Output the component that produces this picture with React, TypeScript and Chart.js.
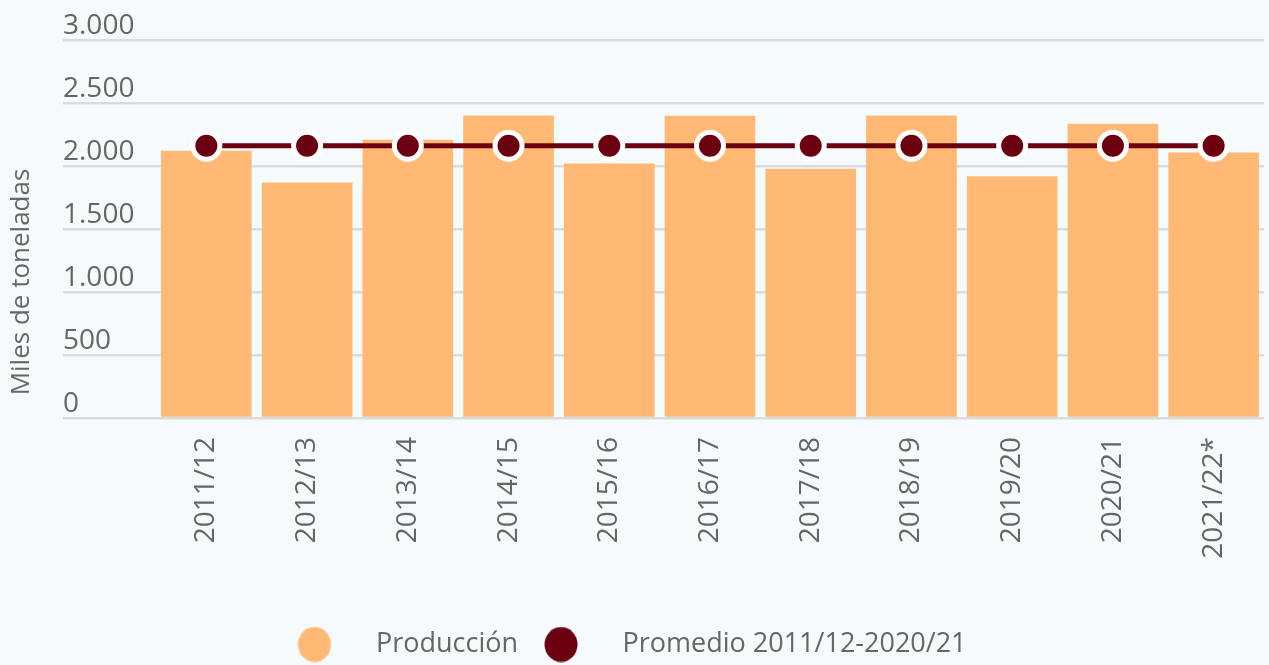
import React, { useEffect, useRef } from 'react';
import { Chart, registerables } from 'chart.js';

Chart.register(...registerables);

const categories = ['2011/12', '2012/13', '2013/14', '2014/15', '2015/16', '2016/17', '2017/18', '2018/19', '2019/20', '2020/21', '2021/22*'];
const produccion = [2121, 1870, 2208, 2400, 2019, 2399, 1979, 2400, 1918, 2335, 2108];
const promedio = [2161, 2161, 2161, 2161, 2161, 2161, 2161, 2161, 2161, 2161, 2161];
const seriesLabels = ['Producción', 'Promedio 2011/12-2020/21'];
const yAxisTitle = 'Miles de toneladas';
const yMin = 0;
const yMax = 3000;
const yStep = 500;

const BAR_COLOR = '#ffb974';
const LINE_COLOR = '#6b0011';
const GRID_COLOR = '#d8dcdf';
const TEXT_COLOR = '#666666';
const BG = '#f5fafd';
const FONT = '"Open Sans", sans-serif';

function legendImage(color: string) {
  const c = document.createElement('canvas');
  c.width = 65;
  c.height = 36;
  const ctx = c.getContext('2d')!;
  ctx.fillStyle = color;
  ctx.beginPath();
  ctx.ellipse(17, 18, 16.5, 17.5, 0, 0, Math.PI * 2);
  ctx.fill();
  return c;
}

const fmt = (v: number) => String(v).replace(/\B(?=(\d{3})+(?!\d))/g, '.');

export default function App() {
  const ref = useRef<HTMLCanvasElement>(null);
  useEffect(() => {
    document.body.style.margin = '0';
    document.body.style.background = BG;
    const imgs = [legendImage(BAR_COLOR), legendImage(LINE_COLOR)];
    const titlePlugin = {
      id: 'yTitle',
      afterDraw(chart: any) {
        const ctx = chart.ctx;
        ctx.save();
        ctx.translate(22, 282);
        ctx.rotate(-Math.PI / 2);
        ctx.font = `26px ${FONT}`;
        ctx.fillStyle = TEXT_COLOR;
        ctx.textAlign = 'center';
        ctx.textBaseline = 'middle';
        ctx.fillText(yAxisTitle, 0, 0);
        ctx.restore();
      },
    };
    const chart = new Chart(ref.current!, {
      type: 'bar',
      data: {
        labels: categories,
        datasets: [
          {
            type: 'bar',
            label: seriesLabels[0],
            data: produccion,
            backgroundColor: BAR_COLOR,
            borderWidth: 0,
            barPercentage: 0.9,
            categoryPercentage: 1.0,
            order: 1,
          } as any,
          {
            type: 'line',
            label: seriesLabels[1],
            data: promedio,
            borderColor: LINE_COLOR,
            borderWidth: 5,
            backgroundColor: LINE_COLOR,
            pointRadius: 13.5,
            pointBorderWidth: 5,
            pointBorderColor: '#ffffff',
            pointBackgroundColor: LINE_COLOR,
            fill: false,
            clip: false,
            order: 0,
          } as any,
        ],
      },
      options: {
        responsive: false,
        animation: false,
        events: [],
        layout: { autoPadding: false, padding: { top: 40, right: 5, left: 0, bottom: -3 } },
        scales: {
          x: {
            grid: { display: false, drawTicks: false },
            border: { display: false },
            ticks: {
              autoSkip: false,
              minRotation: 90,
              maxRotation: 90,
              padding: 19,
              color: TEXT_COLOR,
              font: { family: FONT, size: 28 },
            },
            afterFit: (s: any) => { s.height = 187; s.paddingLeft = 0; s.paddingRight = 0; },
          },
          y: {
            position: 'left',
            weight: 0,
            min: yMin,
            max: yMax,
            grid: { color: GRID_COLOR, lineWidth: 2.5, tickLength: 93, drawTicks: true },
            border: { display: false },
            ticks: {
              stepSize: yStep,
              crossAlign: 'far',
              labelOffset: -14,
              color: TEXT_COLOR,
              font: { family: FONT, size: 28 },
              callback: (v: any) => fmt(Number(v)),
            },
            afterFit: (s: any) => { s.width = 93; },
          },
          spacer: {
            type: 'linear',
            position: 'left',
            weight: 1,
            grid: { display: false },
            border: { display: false },
            ticks: { display: false },
            afterFit: (s: any) => { s.width = 63; },
          },
        } as any,
        plugins: {
          tooltip: { enabled: false },
          legend: {
            position: 'bottom',
            labels: {
              usePointStyle: true,
              pointStyleWidth: 65,
              padding: 26,
              color: TEXT_COLOR,
              font: { family: FONT, size: 27 },
              sort: (a: any, b: any) => a.datasetIndex - b.datasetIndex,
              generateLabels: (chart: any) => {
                const items = Chart.defaults.plugins.legend.labels.generateLabels(chart);
                return items.map((it: any) => ({ ...it, pointStyle: imgs[it.datasetIndex] }));
              },
            },
          } as any,
        },
      },
      plugins: [titlePlugin],
    });
    return () => chart.destroy();
  }, []);
  return (
    <div style={{ width: 1269, height: 665, background: BG }}>
      <canvas ref={ref} width={1269} height={665} style={{ display: 'block' }} />
    </div>
  );
}
